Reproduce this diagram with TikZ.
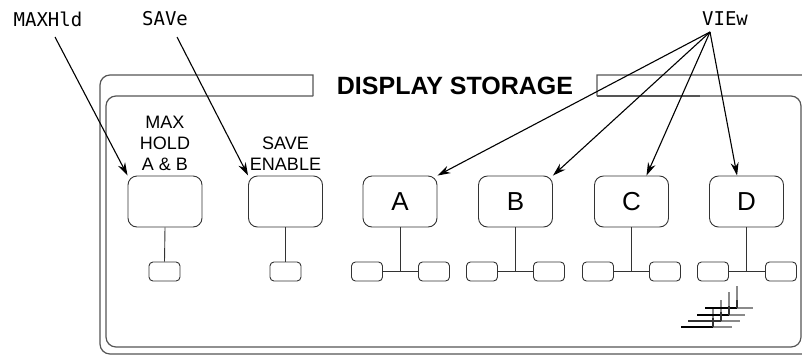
\documentclass[tikz,border=0pt]{standalone}
\usepackage{fontspec}
\setmainfont{Liberation Sans}
\newfontfamily\monofnt{DejaVu Sans Mono}
\usetikzlibrary{arrows.meta}
\definecolor{framec}{HTML}{555555}
\definecolor{boxc}{HTML}{333333}
\definecolor{shadec}{HTML}{8A8A8A}
\begin{document}
\begin{tikzpicture}[x=1pt,y=-1pt,
  bigbtn/.style={draw=boxc,line width=0.9pt,rounded corners=9pt,minimum width=74pt,minimum height=51pt,inner sep=0pt,font=\fontsize{26}{26}\selectfont},
  smallbtn/.style={draw=boxc,line width=0.9pt,rounded corners=4pt,minimum width=31pt,minimum height=19pt,inner sep=0pt},
  wire/.style={draw=boxc,line width=0.9pt},
  frameline/.style={draw=framec,line width=1.2pt},
  monolbl/.style={font=\monofnt\fontsize{19}{19}\selectfont,inner sep=0pt},
  btnlbl/.style={font=\fontsize{18}{21}\selectfont,align=center,inner sep=0pt},
  ptr/.style={draw=black,line width=1.1pt,-{Stealth[length=13pt,width=8pt]}}
]
\useasboundingbox (0,0) rectangle (802,354);
% outer frame
\draw[frameline] (313,96) -- (313,75) -- (200,75) [rounded corners=10pt] -- (100,75) -- (100,354) -- (820,354);
\draw[frameline] (597,96) -- (597,75) -- (700,75) [rounded corners=10pt] -- (812,75) -- (812,360);
% inner frame
\draw[frameline] (313,96) -- (200,96) [rounded corners=10pt] -- (106,96) -- (106,347) -- (801,347) -- (801,96) -- (700,96);
\draw[frameline] (700,96) -- (597,96);
% title
\node[font=\fontsize{25}{25}\selectfont\bfseries,inner sep=0pt] (title) at (455,86) {DISPLAY STORAGE};
% big buttons
\node[bigbtn] (mh) at (165,201.5) {};
\node[bigbtn] (sv) at (285.5,201.5) {};
\node[bigbtn] (a) at (400,201.5) {A};
\node[bigbtn] (b) at (515.5,201.5) {B};
\node[bigbtn] (c) at (631.5,201.5) {C};
\node[bigbtn] (d) at (746.5,201.5) {D};
% button labels
\node[btnlbl] (mhl) at (165,143) {MAX\\HOLD\\A \& B};
\node[btnlbl] (svl) at (285.5,153.5) {SAVE\\ENABLE};
% small buttons
\node[smallbtn] (mhs) at (164.5,271.5) {};
\node[smallbtn] (svs) at (285.5,271.5) {};
\node[smallbtn] (al) at (367,271.5) {};
\node[smallbtn] (ar) at (434,271.5) {};
\node[smallbtn] (bl) at (482,271.5) {};
\node[smallbtn] (br) at (549,271.5) {};
\node[smallbtn] (cl) at (598,271.5) {};
\node[smallbtn] (cr) at (665,271.5) {};
\node[smallbtn] (dl) at (713,271.5) {};
\node[smallbtn] (dr) at (781,271.5) {};
\coordinate (aj) at (400,271.5);
\coordinate (bj) at (515.5,271.5);
\coordinate (cj) at (631.5,271.5);
\coordinate (dj) at (746.5,271.5);
% stems
\draw[wire] (mh.south) -- (mhs.north);
\draw[wire] (sv.south) -- (svs.north);
\draw[wire] (a.south) -- (aj);
\draw[wire] (b.south) -- (bj);
\draw[wire] (c.south) -- (cj);
\draw[wire] (d.south) -- (dj);
\draw[wire] (al.east) -- (ar.west);
\draw[wire] (bl.east) -- (br.west);
\draw[wire] (cl.east) -- (cr.west);
\draw[wire] (dl.east) -- (dr.west);
% pointer labels
\node[monolbl] (mx) at (48,19) {MAXHld};
\node[monolbl] (sa) at (165,19) {SAVe};
\node[monolbl] (vw) at (725,19) {VIEw};
\coordinate (mxs) at (55,37);
\coordinate (sas) at (177,37);
\coordinate (vws) at (710,32);
\draw[ptr] (mxs) -- (mh.north west);
\draw[ptr] (sas) -- (sv.north west);
\draw[ptr] (vws) -- (a.north east);
\draw[ptr] (vws) -- (b.north east);
\draw[ptr] (vws) -- (c.60);
\draw[ptr] (vws) -- (d.110);
% hash mark
\begin{scope}[line width=1.2pt]
\draw[shadec] (737,308) -- (753,308);
\draw[shadec] (729,315) -- (745,315);
\draw[shadec] (721,321) -- (740,321);
\draw[shadec] (713,327) -- (732,327);
\draw[shadec] (737,286) -- (737,300);
\draw[shadec] (729,292) -- (729,306);
\draw[shadec] (721,300) -- (721,312);
\draw[shadec] (713,307) -- (713,318);
\draw[black] (705,308) -- (737,308);
\draw[black] (697,315) -- (729,315);
\draw[black!80] (688,321) -- (721,321);
\draw[black] (681,327) -- (713,327);
\draw[black!80] (737,300) -- (737,308);
\draw[black!80] (729,306) -- (729,315);
\draw[black!80] (721,312) -- (721,321);
\draw[black!80] (713,318) -- (713,327);
\end{scope}
\end{tikzpicture}
\end{document}
